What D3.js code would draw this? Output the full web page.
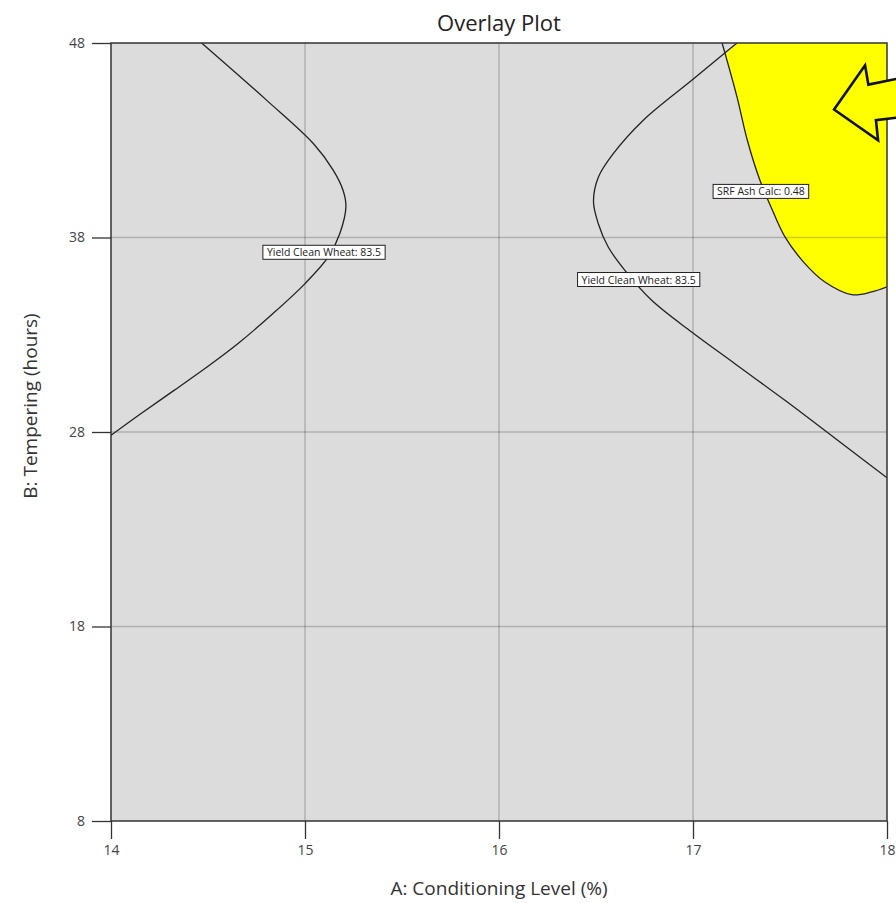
<!DOCTYPE html>
<html><head><meta charset="utf-8">
<script src="https://cdn.jsdelivr.net/npm/d3@7/dist/d3.min.js"></script>
<style>
html,body{margin:0;padding:0;background:#fff;}
svg{display:block;}
text{font-family:"Open Sans","Noto Sans",sans-serif;}
</style></head>
<body>
<svg id="chart" width="896" height="903"></svg>
<script>
const title = "Overlay Plot";
const xLabel = "A: Conditioning Level (%)";
const yLabel = "B: Tempering (hours)";
const xTicks = [14, 15, 16, 17, 18];
const yTicks = [8, 18, 28, 38, 48];
const xDomain = [14, 18];
const yDomain = [8, 48];

// Contour: Yield Clean Wheat = 83.5 (left branch)
const yieldLeft = [[14.467,48],[14.803,45.05],[15.043,42.83],[15.146,41.45],[15.196,40.43],[15.211,39.6],[15.18,38.22],[15.12,37.0],[15.0,35.63],[14.835,34.09],[14.655,32.55],[14.495,31.34],[14.325,30.14],[14.155,28.95],[14.0,27.83]];
// Contour: Yield Clean Wheat = 83.5 (right branch)
const yieldRight = [[17.227,48],[17.156,47.42],[17.0,46.13],[16.744,44.03],[16.589,42.31],[16.512,41.1],[16.487,39.85],[16.512,38.71],[16.563,37.51],[16.649,36.31],[16.787,34.77],[16.993,33.14],[17.216,31.51],[17.474,29.63],[17.732,27.68],[18.0,25.65]];
// Contour: SRF Ash Calc = 0.48
const srfAsh = [[17.15,48],[17.227,45.22],[17.28,43.0],[17.345,40.94],[17.405,39.5],[17.474,38.03],[17.577,36.66],[17.68,35.71],[17.818,35.06],[17.921,35.2],[18.0,35.46]];
// Where the yield branch crosses the SRF contour near the top edge
const crossing = [17.165, 47.4];
// Contour labels: [text, x, y]
const contourLabels = [["Yield Clean Wheat: 83.5",15.098,37.24],["Yield Clean Wheat: 83.5",16.72,35.84],["SRF Ash Calc: 0.48",17.35,40.37]];
// Arrow annotation pointing into feasible region (data coords)
const arrowPts = [[17.727,44.58],[17.887,46.85],[17.904,45.86],[18.067,46.19],[18.067,44.18],[17.943,44.03],[17.954,43.0]];

const svg = d3.select("#chart");
const x = d3.scaleLinear().domain(xDomain).range([111, 887]);
const y = d3.scaleLinear().domain(yDomain).range([821, 43]);

svg.append("defs").append("clipPath").attr("id","clip")
  .append("rect").attr("x",x(14)).attr("y",y(48)).attr("width",x(18)-x(14)).attr("height",y(8)-y(48));

// background
svg.append("rect").attr("x",x(14)).attr("y",y(48)).attr("width",x(18)-x(14)).attr("height",y(8)-y(48))
  .attr("fill","#dcdcdc");

const g = svg.append("g").attr("clip-path","url(#clip)");

const smooth = d3.line().x(d=>x(d[0])).y(d=>y(d[1])).curve(d3.curveCatmullRom.alpha(0.5));

// feasible region: yield branch top -> crossing -> SRF contour -> right edge -> top-right corner
const srfBelow = [crossing].concat(srfAsh.filter(p => p[1] < crossing[1]));
const srfPath = smooth(srfBelow);
const feasD = "M" + x(yieldRight[0][0]) + "," + y(yieldRight[0][1]) + "L" + srfPath.slice(1)
  + "L" + x(18) + "," + y(48) + "Z";
g.append("path").attr("d", feasD).attr("fill","#ffff00").attr("stroke","none");

// grid
g.selectAll("line.vg").data(xTicks.slice(1,-1)).join("line")
  .attr("x1",d=>x(d)).attr("x2",d=>x(d)).attr("y1",y(8)).attr("y2",y(48))
  .attr("stroke","#000").attr("stroke-opacity",0.2).attr("stroke-width",1.5);
g.selectAll("line.hg").data(yTicks.slice(1,-1)).join("line")
  .attr("y1",d=>y(d)).attr("y2",d=>y(d)).attr("x1",x(14)).attr("x2",x(18))
  .attr("stroke","#000").attr("stroke-opacity",0.2).attr("stroke-width",1.5);

// contours
[yieldLeft, yieldRight, srfAsh].forEach(c => {
  g.append("path").attr("d", smooth(c)).attr("fill","none").attr("stroke","#222").attr("stroke-width",1.3);
});

// contour labels
contourLabels.forEach(([t,lx,ly]) => {
  const lg = svg.append("g");
  const tx = lg.append("text").attr("x",x(lx)).attr("y",y(ly)).attr("text-anchor","middle")
    .attr("dominant-baseline","central").attr("font-size",10.5).attr("fill","#222").text(t);
  const w = tx.node().getComputedTextLength();
  lg.insert("rect","text").attr("x",x(lx)-w/2-4).attr("y",y(ly)-7).attr("width",w+8).attr("height",14)
    .attr("fill","#fff").attr("stroke","#222").attr("stroke-width",1);
});

// frame
svg.append("rect").attr("x",x(14)).attr("y",y(48)).attr("width",x(18)-x(14)).attr("height",y(8)-y(48))
  .attr("fill","none").attr("stroke","#333").attr("stroke-width",1.5);

// axes
const xAxis = d3.axisBottom(x).tickValues(xTicks).tickSize(18).tickPadding(6).tickFormat(d3.format("d"));
const yAxis = d3.axisLeft(y).tickValues(yTicks).tickSize(19).tickPadding(7).tickFormat(d3.format("d"));
const xa = svg.append("g").attr("transform",`translate(0,${y(8)})`).call(xAxis);
const ya = svg.append("g").attr("transform",`translate(${x(14)},0)`).call(yAxis);
[xa,ya].forEach(a=>{
  a.select(".domain").remove();
  a.selectAll(".tick line").attr("stroke","#333").attr("stroke-width",1.3);
  a.selectAll(".tick text").attr("fill","#444").attr("font-size",14).attr("font-family","'Open Sans',sans-serif");
});

// arrow annotation
svg.append("path")
  .attr("d", d3.line().x(d=>x(d[0])).y(d=>y(d[1]))(arrowPts) + "Z")
  .attr("fill","#ffff00").attr("stroke","#111").attr("stroke-width",2.6).attr("stroke-linejoin","miter");

// titles
svg.append("text").attr("x",(x(14)+x(18))/2).attr("y",31).attr("text-anchor","middle")
  .attr("font-size",22).attr("fill","#222").text(title);
svg.append("text").attr("x",(x(14)+x(18))/2).attr("y",895).attr("text-anchor","middle")
  .attr("font-size",19).attr("fill","#333").text(xLabel);
svg.append("text").attr("transform",`translate(37,406) rotate(-90)`).attr("text-anchor","middle")
  .attr("font-size",19).attr("fill","#333").text(yLabel);
</script>
</body></html>
